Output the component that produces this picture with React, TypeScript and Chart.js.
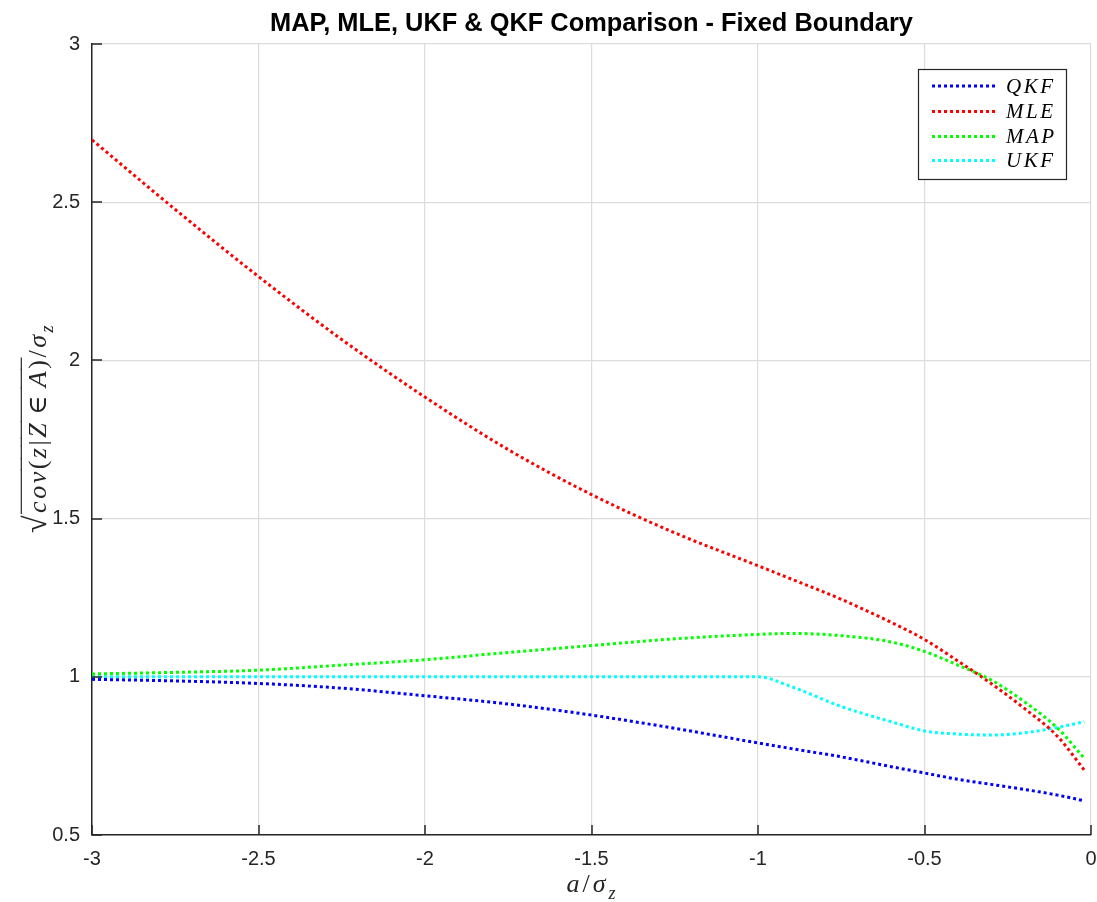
import React, { useEffect, useRef } from 'react';
import { Chart, registerables } from 'chart.js';

Chart.register(...registerables);

const xValues = [-3, -2.75, -2.5, -2.25, -2, -1.75, -1.5, -1.25, -1, -0.9, -0.75, -0.6, -0.5, -0.4, -0.3, -0.2, -0.1, -0.02];
const qkfValues = [0.992, 0.987, 0.979, 0.964, 0.940, 0.914, 0.879, 0.837, 0.791, 0.773, 0.747, 0.716, 0.696, 0.676, 0.660, 0.644, 0.626, 0.608];
const mleValues = [2.697, 2.477, 2.265, 2.066, 1.884, 1.718, 1.576, 1.455, 1.351, 1.309, 1.245, 1.172, 1.118, 1.050, 0.979, 0.900, 0.811, 0.705];
const mapValues = [1.009, 1.014, 1.021, 1.037, 1.054, 1.077, 1.099, 1.120, 1.134, 1.137, 1.130, 1.110, 1.080, 1.037, 0.990, 0.921, 0.837, 0.742];
const ukfValues = [1.0, 1.0, 1.0, 1.0, 1.0, 1.0, 1.0, 1.0, 1.0, 0.969, 0.906, 0.858, 0.829, 0.819, 0.816, 0.823, 0.840, 0.858];

const seriesNames = ['QKF', 'MLE', 'MAP', 'UKF'];
const seriesColors = ['#0000ff', '#ff0000', '#00ff00', '#00ffff'];
const xTickValues = [-3, -2.5, -2, -1.5, -1, -0.5, 0];
const yTickValues = [0.5, 1, 1.5, 2, 2.5, 3];
const titleText = 'MAP, MLE, UKF & QKF Comparison - Fixed Boundary';

const AXIS_COLOR = '#262626';
const GRID_COLOR = '#dcdcdc';
const SERIF = "'Liberation Serif', 'DejaVu Serif', serif";
const SANS = "'Liberation Sans', Arial, sans-serif";

type Seg = { t: string; italic?: boolean; sub?: boolean; over?: boolean; size?: number; gap?: number };

function drawSegs(ctx: CanvasRenderingContext2D, segs: Seg[], cx: number, baseY: number, size: number, spacing: number) {
  const c = ctx as any;
  const fontFor = (s: Seg) => `${s.italic ? 'italic ' : ''}${s.sub ? Math.round(size * 0.7) : (s.size || size)}px ${SERIF}`;
  c.letterSpacing = `${spacing}px`;
  let total = 0;
  const widths = segs.map((s) => {
    ctx.font = fontFor(s);
    const w = ctx.measureText(s.t).width + (s.gap || 0) * 2;
    total += w;
    return w;
  });
  let x = cx - total / 2;
  segs.forEach((s, i) => {
    ctx.font = fontFor(s);
    ctx.textBaseline = 'alphabetic';
    ctx.textAlign = 'left';
    const y = s.sub ? baseY + size * 0.25 : baseY;
    ctx.fillText(s.t, x + (s.gap || 0), y);
    if (s.over) {
      ctx.save();
      ctx.lineWidth = 1.2;
      ctx.strokeStyle = ctx.fillStyle as string;
      ctx.beginPath();
      ctx.moveTo(x - 1, baseY - size * 0.95);
      ctx.lineTo(x + widths[i], baseY - size * 0.95);
      ctx.stroke();
      ctx.restore();
    }
    x += widths[i];
  });
  c.letterSpacing = '0px';
}

const decorPlugin = {
  id: 'decor',
  afterDraw(chart: any) {
    const { ctx, chartArea, scales } = chart;
    const { left, right, bottom } = chartArea;
    ctx.save();
    // inward tick marks
    ctx.strokeStyle = AXIS_COLOR;
    ctx.lineWidth = 1.5;
    ctx.beginPath();
    yTickValues.forEach((v) => {
      const y = Math.round(scales.y.getPixelForValue(v));
      ctx.moveTo(left, y);
      ctx.lineTo(left + 10, y);
    });
    xTickValues.forEach((v) => {
      const x = Math.round(scales.x.getPixelForValue(v));
      ctx.moveTo(x, bottom);
      ctx.lineTo(x, bottom - 10);
    });
    ctx.stroke();

    // title
    ctx.fillStyle = '#000000';
    ctx.font = `bold 25.4px ${SANS}`;
    ctx.textAlign = 'center';
    ctx.textBaseline = 'middle';
    ctx.fillText(titleText, (left + right) / 2, 24);

    // x label
    ctx.fillStyle = AXIS_COLOR;
    drawSegs(ctx, [
      { t: 'a', italic: true },
      { t: '/' },
      { t: 'σ', italic: true },
      { t: 'z', italic: true, sub: true },
    ], (left + right) / 2 + 1, 892, 26, 3);

    // y label (rotated)
    ctx.save();
    ctx.translate(37, 428);
    ctx.rotate(-Math.PI / 2);
    drawSegs(ctx, [
      { t: '√', size: 32 },
      { t: 'cov', italic: true, over: true },
      { t: '(', over: true },
      { t: 'z', italic: true, over: true },
      { t: '|', over: true },
      { t: 'Z', italic: true, over: true },
      { t: '∈', over: true, gap: 6 },
      { t: 'A', italic: true, over: true },
      { t: ')', over: true },
      { t: '/' },
      { t: 'σ', italic: true },
      { t: 'z', italic: true, sub: true },
    ], 0, 9, 26, 2.5);
    ctx.restore();

    // legend
    const lx = 918, ly = 69, lw = 148, lh = 110;
    ctx.fillStyle = '#ffffff';
    ctx.fillRect(lx, ly, lw, lh);
    ctx.strokeStyle = AXIS_COLOR;
    ctx.lineWidth = 1.2;
    ctx.strokeRect(lx + 0.5, ly + 0.5, lw, lh);
    const rowY = [86, 111.5, 136.5, 160.5];
    seriesNames.forEach((name, i) => {
      ctx.save();
      ctx.strokeStyle = seriesColors[i];
      ctx.lineWidth = 3;
      ctx.setLineDash([3, 3]);
      ctx.beginPath();
      ctx.moveTo(932, rowY[i]);
      ctx.lineTo(998, rowY[i]);
      ctx.stroke();
      ctx.restore();
      ctx.fillStyle = '#000000';
      ctx.font = `italic 21px ${SERIF}`;
      ctx.textAlign = 'left';
      ctx.textBaseline = 'middle';
      (ctx as any).letterSpacing = '2.5px';
      ctx.fillText(name, 1006, rowY[i] + 1);
      (ctx as any).letterSpacing = '0px';
    });
    ctx.restore();
  },
};

export default function App() {
  const canvasRef = useRef<HTMLCanvasElement | null>(null);

  useEffect(() => {
    document.body.style.margin = '0';
    document.body.style.overflow = 'hidden';
    const canvas = canvasRef.current;
    if (!canvas) return;
    const allSeries = [qkfValues, mleValues, mapValues, ukfValues];
    const chart = new Chart(canvas, {
      type: 'line',
      data: {
        datasets: allSeries.map((vals, i) => ({
          label: seriesNames[i],
          data: xValues.map((x, j) => ({ x, y: vals[j] })),
          borderColor: seriesColors[i],
          backgroundColor: seriesColors[i],
          borderWidth: 3,
          borderDash: [3, 3],
          pointRadius: 0,
          fill: false,
          cubicInterpolationMode: 'monotone',
        })),
      },
      options: {
        responsive: false,
        animation: false,
        devicePixelRatio: 1,
        layout: { padding: { top: 44, right: 6, bottom: 0, left: 0 } },
        plugins: {
          legend: { display: false },
          title: { display: false },
          tooltip: { enabled: false },
        },
        scales: {
          x: {
            type: 'linear',
            min: -3,
            max: 0,
            afterBuildTicks: (s: any) => { s.ticks = xTickValues.map((v) => ({ value: v })); },
            afterFit: (s: any) => { s.height = 67; s.paddingLeft = 0; s.paddingRight = 0; },
            ticks: {
              color: AXIS_COLOR,
              font: { family: SANS, size: 20 },
              padding: 12,
              maxRotation: 0,
              autoSkip: false,
              callback: (v: any) => String(v),
            },
            grid: { color: GRID_COLOR, lineWidth: 1.2, drawTicks: false },
            border: { display: true, color: AXIS_COLOR, width: 1.5 },
          },
          y: {
            type: 'linear',
            min: 0.5,
            max: 3,
            afterBuildTicks: (s: any) => { s.ticks = yTickValues.map((v) => ({ value: v })); },
            afterFit: (s: any) => { s.width = 92; s.paddingTop = 0; s.paddingBottom = 0; },
            ticks: {
              color: AXIS_COLOR,
              font: { family: SANS, size: 20 },
              padding: 12,
              autoSkip: false,
              callback: (v: any) => String(v),
            },
            grid: { color: GRID_COLOR, lineWidth: 1.2, drawTicks: false },
            border: { display: true, color: AXIS_COLOR, width: 1.5 },
          },
        },
      },
      plugins: [decorPlugin],
    } as any);
    return () => chart.destroy();
  }, []);

  return (
    <div style={{ width: 1097, height: 902, background: '#ffffff' }}>
      <canvas ref={canvasRef} width={1097} height={902} style={{ display: 'block' }} />
    </div>
  );
}
